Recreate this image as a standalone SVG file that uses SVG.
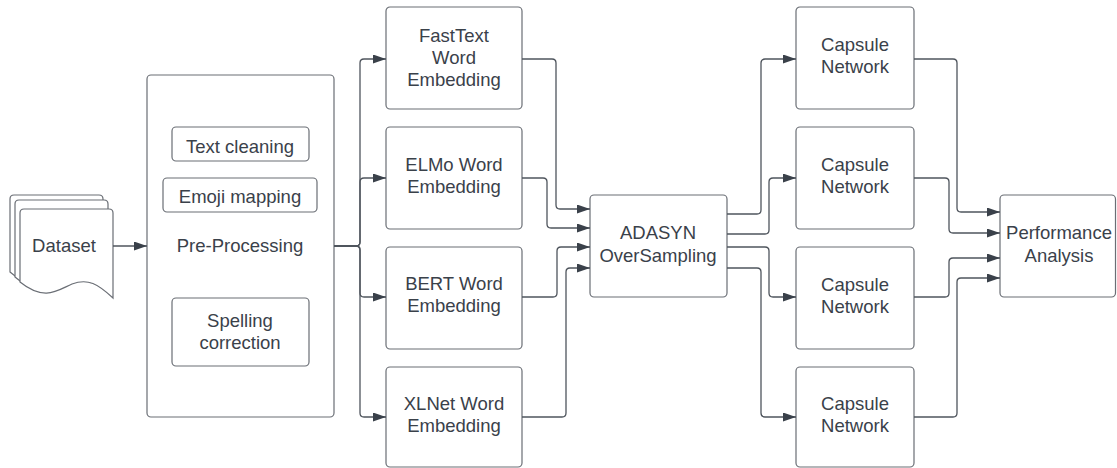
<svg xmlns="http://www.w3.org/2000/svg" width="1117" height="468" viewBox="0 0 1117 468">
<defs>
<style>
.box{fill:#fff;stroke:#6a6e75;stroke-width:1.2}
.t{font-family:"Liberation Sans",Arial,sans-serif;font-size:18.5px;fill:#3a414a;text-anchor:middle}
.c{fill:none;stroke:#4f555d;stroke-width:1.3}
</style>
<marker id="ah" markerUnits="userSpaceOnUse" markerWidth="14" markerHeight="9" refX="13" refY="4.5" orient="auto">
<path d="M0,0 L13,4.5 L0,9 Z" fill="#3a414a"/>
</marker>
</defs>
<rect width="1117" height="468" fill="#fff"/>

<g id="dataset">
<path class="box" d="M10,199 Q10,195 14,195 H99 Q103,195 103,199 V284 C85,276 75,272 60,278 C45,284 30,290 10,272 Z"/>
<path class="box" d="M15,204 Q15,200 19,200 H104 Q108,200 108,204 V289 C90,281 80,277 65,283 C50,289 35,295 15,277 Z"/>
<path class="box" d="M20,213 Q20,209 24,209 H109 Q113,209 113,213 V298 C98,284 88,278 72,284 C58,290 45,302 20,282 Z"/>
<text class="t" x="64" y="252">Dataset</text>
</g>

<g id="preprocessing">
<rect class="box" x="147" y="75" width="187" height="342" rx="4"/>
<text class="t" x="240" y="252">Pre-Processing</text>
</g>
<g id="textcleaning">
<rect class="box" x="172" y="127" width="137" height="34" rx="4"/>
<text class="t" x="240" y="153">Text cleaning</text>
</g>
<g id="emojimapping">
<rect class="box" x="163" y="178" width="154" height="34" rx="4"/>
<text class="t" x="240" y="203">Emoji mapping</text>
</g>
<g id="spelling">
<rect class="box" x="172" y="298" width="137" height="68" rx="4"/>
<text class="t" x="240" y="327">Spelling</text>
<text class="t" x="240" y="349">correction</text>
</g>

<g id="fasttext">
<rect class="box" x="386" y="7" width="136" height="102" rx="4"/>
<text class="t" x="454" y="42">FastText</text>
<text class="t" x="454" y="64">Word</text>
<text class="t" x="454" y="86">Embedding</text>
</g>
<g id="elmo">
<rect class="box" x="386" y="127" width="136" height="102" rx="4"/>
<text class="t" x="454" y="171">ELMo Word</text>
<text class="t" x="454" y="193">Embedding</text>
</g>
<g id="bert">
<rect class="box" x="386" y="247" width="136" height="102" rx="4"/>
<text class="t" x="454" y="290">BERT Word</text>
<text class="t" x="454" y="312">Embedding</text>
</g>
<g id="xlnet">
<rect class="box" x="386" y="367" width="136" height="100" rx="4"/>
<text class="t" x="454" y="410">XLNet Word</text>
<text class="t" x="454" y="432">Embedding</text>
</g>

<g id="adasyn">
<rect class="box" x="590" y="195" width="137" height="102" rx="4"/>
<text class="t" x="658" y="239">ADASYN</text>
<text class="t" x="658" y="262">OverSampling</text>
</g>

<g id="capsule1">
<rect class="box" x="796" y="7" width="118" height="102" rx="4"/>
<text class="t" x="855" y="51">Capsule</text>
<text class="t" x="855" y="73">Network</text>
</g>
<g id="capsule2">
<rect class="box" x="796" y="127" width="118" height="102" rx="4"/>
<text class="t" x="855" y="171">Capsule</text>
<text class="t" x="855" y="193">Network</text>
</g>
<g id="capsule3">
<rect class="box" x="796" y="247" width="118" height="102" rx="4"/>
<text class="t" x="855" y="291">Capsule</text>
<text class="t" x="855" y="313">Network</text>
</g>
<g id="capsule4">
<rect class="box" x="796" y="367" width="118" height="100" rx="4"/>
<text class="t" x="855" y="410">Capsule</text>
<text class="t" x="855" y="432">Network</text>
</g>

<g id="performance">
<rect class="box" x="1000" y="195" width="115.5" height="102" rx="4"/>
<text class="t" x="1059" y="239">Performance</text>
<text class="t" x="1059" y="262">Analysis</text>
</g>

<g id="connectors" class="c" marker-end="url(#ah)">
<path d="M113,246 H147"/>
<path d="M334,246 H356 Q360,246 360,242 V63 Q360,59 364,59 H386"/>
<path d="M334,246 H356 Q360,246 360,242 V182 Q360,178 364,178 H386"/>
<path d="M334,246 H356 Q360,246 360,250 V293 Q360,297 364,297 H386"/>
<path d="M334,246 H356 Q360,246 360,250 V413 Q360,417 364,417 H386"/>

<path d="M522,59 H552 Q556,59 556,63 V205 Q556,209 560,209 H590"/>
<path d="M522,178 H543 Q547,178 547,182 V224 Q547,228 551,228 H590"/>
<path d="M522,297 H553 Q557,297 557,293 V251 Q557,247 561,247 H590"/>
<path d="M522,417 H562 Q566,417 566,413 V272 Q566,268 570,268 H590"/>

<path d="M727,214 H757 Q761,214 761,210 V63 Q761,59 765,59 H796"/>
<path d="M727,234 H765 Q769,234 769,230 V182 Q769,178 773,178 H796"/>
<path d="M727,247 H765 Q769,247 769,251 V293 Q769,297 773,297 H796"/>
<path d="M727,268 H757 Q761,268 761,272 V413 Q761,417 765,417 H796"/>

<path d="M914,59 H953 Q957,59 957,63 V208 Q957,212 961,212 H1000"/>
<path d="M914,178 H945 Q949,178 949,182 V229 Q949,233 953,233 H1000"/>
<path d="M914,297 H945 Q949,297 949,293 V262 Q949,258 953,258 H1000"/>
<path d="M914,417 H953 Q957,417 957,413 V282 Q957,278 961,278 H1000"/>
</g>
</svg>
